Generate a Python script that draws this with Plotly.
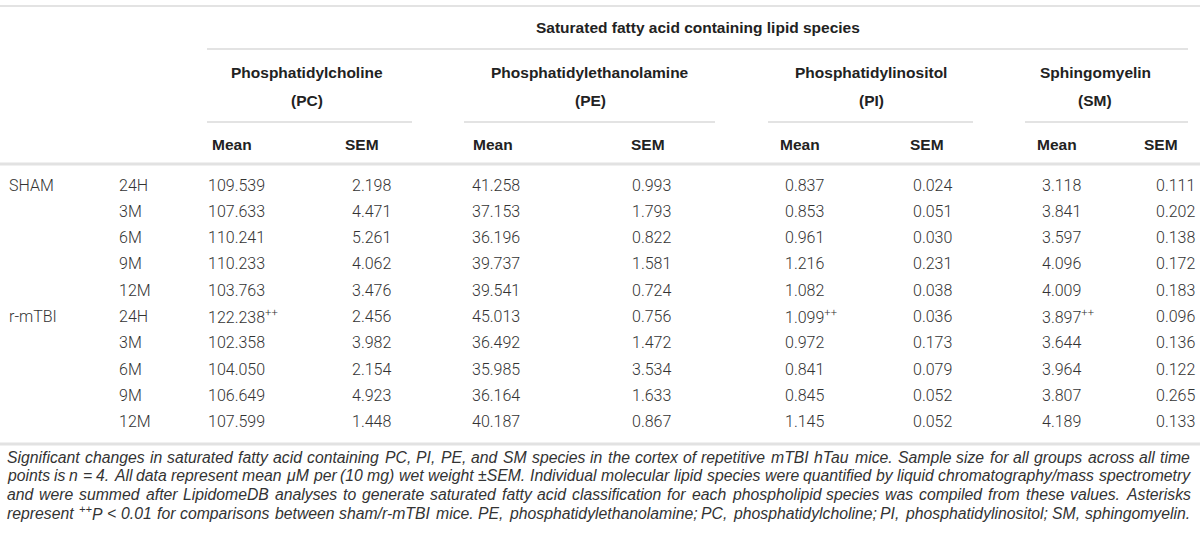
import plotly.graph_objects as go

# ---- table data ----
groups = ["SHAM", "", "", "", "", "r-mTBI", "", "", "", ""]
times = ["24H", "3M", "6M", "9M", "12M", "24H", "3M", "6M", "9M", "12M"]

pc_mean = [109.539, 107.633, 110.241, 110.233, 103.763, 122.238, 102.358, 104.050, 106.649, 107.599]
pc_sem = [2.198, 4.471, 5.261, 4.062, 3.476, 2.456, 3.982, 2.154, 4.923, 1.448]
pe_mean = [41.258, 37.153, 36.196, 39.737, 39.541, 45.013, 36.492, 35.985, 36.164, 40.187]
pe_sem = [0.993, 1.793, 0.822, 1.581, 0.724, 0.756, 1.472, 3.534, 1.633, 0.867]
pi_mean = [0.837, 0.853, 0.961, 1.216, 1.082, 1.099, 0.972, 0.841, 0.845, 1.145]
pi_sem = [0.024, 0.051, 0.030, 0.231, 0.038, 0.036, 0.173, 0.079, 0.052, 0.052]
sm_mean = [3.118, 3.841, 3.597, 4.096, 4.009, 3.897, 3.644, 3.964, 3.807, 4.189]
sm_sem = [0.111, 0.202, 0.138, 0.172, 0.183, 0.096, 0.136, 0.122, 0.265, 0.133]

# rows marked ++ (P < 0.01)
pc_sig = [0, 0, 0, 0, 0, 1, 0, 0, 0, 0]
pe_sig = [0] * 10
pi_sig = [0, 0, 0, 0, 0, 1, 0, 0, 0, 0]
sm_sig = [0, 0, 0, 0, 0, 1, 0, 0, 0, 0]

span_title = "Saturated fatty acid containing lipid species"
lipid_names = ["Phosphatidylcholine", "Phosphatidylethanolamine", "Phosphatidylinositol", "Sphingomyelin"]
lipid_abbr = ["(PC)", "(PE)", "(PI)", "(SM)"]
stat_labels = ["Mean", "SEM"]

footnote = [
    "Significant changes in saturated fatty acid containing PC, PI, PE, and SM species in the cortex of repetitive mTBI hTau mice. Sample size for all groups across all time",
    "points is n = 4. All data represent mean \u03bcM per (10 mg) wet weight \u00b1SEM. Individual molecular lipid species were quantified by liquid chromatography/mass spectrometry",
    "and were summed after LipidomeDB analyses to generate saturated fatty acid classification for each phospholipid species was compiled from these values. Asterisks",
    "represent <sup>++</sup>P < 0.01 for comparisons between sham/r-mTBI mice. PE, phosphatidylethanolamine; PC, phosphatidylcholine; PI, phosphatidylinositol; SM, sphingomyelin.",
]

# ---- layout (pixels) ----
W, H = 1200, 539
ROW0, ROW_H = 185, 26.3
COL_GROUP, COL_TIME = 7, 117
# left edge of data values / header labels for each lipid: (mean, sem)
data_x = [(206, 350), (470, 630), (783, 911), (1040, 1154)]
head_x = [(210, 343), (471, 629), (778, 908), (1035, 1142)]
under_x = [(207, 412), (464, 715), (768, 973), (1025, 1188)]
title_cx = [307, 590, 871, 1095]

DATA_FONT = dict(family="Roboto", size=16, color="#333333", weight=300)
HEAD_FONT = dict(family="Liberation Sans", size=15.5, color="#222222", weight="bold")
NOTE_FONT = dict(family="Liberation Sans", color="#333333", style="italic")
LIGHT = "#c8c8c8"
THICK = "#e2e2e2"

annotations = []
shapes = []


def add_text(x, y, text, font, anchor="left"):
    annotations.append(dict(x=x, y=y, xref="x", yref="y", text=text, showarrow=False,
                            xanchor=anchor, yanchor="middle", font=font))


def add_line(x0, x1, y, color, width):
    shapes.append(dict(type="line", xref="x", yref="y", x0=x0, x1=x1, y0=y, y1=y,
                       line=dict(color=color, width=width)))


# rules
add_line(0, W, 6, LIGHT, 1.2)
add_line(under_x[0][0], under_x[-1][1], 49, LIGHT, 1.2)
for x0, x1 in under_x:
    add_line(x0, x1, 122, LIGHT, 1.2)
add_line(0, W, 164, THICK, 3)
add_line(0, W, 444, THICK, 3)

# header
add_text((under_x[0][0] + under_x[-1][1]) / 2, 27, span_title, HEAD_FONT, "center")
for i in range(4):
    add_text(title_cx[i], 72, lipid_names[i], HEAD_FONT, "center")
    add_text(title_cx[i], 100, lipid_abbr[i], HEAD_FONT, "center")
    for j in range(2):
        add_text(head_x[i][j], 144, stat_labels[j], HEAD_FONT)

# body
series = [(pc_mean, pc_sem, pc_sig), (pe_mean, pe_sem, pe_sig),
          (pi_mean, pi_sem, pi_sig), (sm_mean, sm_sem, sm_sig)]
for r in range(len(times)):
    y = ROW0 + r * ROW_H
    if groups[r]:
        add_text(COL_GROUP, y, groups[r], DATA_FONT)
    add_text(COL_TIME, y, times[r], DATA_FONT)
    for i, (mean, sem, sig) in enumerate(series):
        m = "{:.3f}".format(mean[r])
        if sig[r]:
            m += "<sup>++</sup>"
        add_text(data_x[i][0], y, m, DATA_FONT)
        add_text(data_x[i][1], y, "{:.3f}".format(sem[r]), DATA_FONT)

# footnote, justified word by word using Arial/Liberation Sans metrics
ARIAL = {" ": 278, ",": 278, ".": 278, "/": 278, "-": 333, "(": 333, ")": 333, ";": 278,
         "=": 584, "<": 584, "+": 584, "\u00b1": 584, "\u03bc": 576,
         "A": 667, "B": 667, "C": 722, "D": 722, "E": 667, "H": 722, "I": 278, "L": 556,
         "M": 833, "P": 667, "S": 667, "T": 611,
         "a": 556, "b": 556, "c": 500, "d": 556, "e": 556, "f": 278, "g": 556, "h": 556,
         "i": 222, "j": 222, "k": 500, "l": 222, "m": 833, "n": 556, "o": 556, "p": 556,
         "q": 556, "r": 333, "s": 500, "t": 278, "u": 556, "v": 500, "w": 722, "x": 500,
         "y": 500, "z": 500}


def em(s):
    return sum(ARIAL.get(c, 556) for c in s) / 1000.0


def word_em(tok):
    if "<sup>" in tok:
        pre, rest = tok.split("<sup>")
        sup, post = rest.split("</sup>")
        return em(pre + post) + 0.7 * em(sup)
    return em(tok)


NOTE_X0, NOTE_X1 = 7, 1190
NOTE_Y0, NOTE_DY = 457, 18.7
natural = [sum(word_em(w) for w in ln.split(" ")) + em(" ") * (len(ln.split(" ")) - 1) for ln in footnote]
note_size = (NOTE_X1 - NOTE_X0 - 2) / max(natural)
note_font = dict(NOTE_FONT, size=note_size)

for k, ln in enumerate(footnote):
    words = ln.split(" ")
    widths = [word_em(w) * note_size for w in words]
    gap = (NOTE_X1 - NOTE_X0 - sum(widths)) / (len(words) - 1)
    if k == len(footnote) - 1:
        gap = min(gap, em(" ") * note_size * 1.15)
    x = NOTE_X0
    y = NOTE_Y0 + k * NOTE_DY
    for w, wd in zip(words, widths):
        annotations.append(dict(x=x, y=y, xref="x", yref="y", text=w, showarrow=False,
                                xanchor="left", yanchor="middle", font=note_font,
                                borderpad=0, borderwidth=0))
        x += wd + gap

fig = go.Figure()
fig.update_layout(
    width=W, height=H,
    margin=dict(l=0, r=0, t=0, b=0),
    paper_bgcolor="white", plot_bgcolor="white",
    xaxis=dict(range=[0, W], visible=False, fixedrange=True),
    yaxis=dict(range=[H, 0], visible=False, fixedrange=True),
    annotations=annotations,
    shapes=shapes,
    showlegend=False,
)
# drop the default page margin so the 1200x539 figure fills the window exactly
fig.write_html("out.html", config={"displayModeBar": False},
               post_script="document.body.style.margin = '0';")
